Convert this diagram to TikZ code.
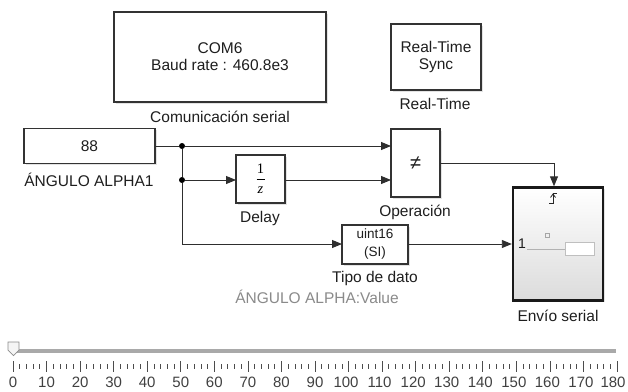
\documentclass[tikz,border=0pt]{standalone}
\usepackage{fontspec}
\setmainfont{Liberation Sans}
\newfontfamily\fracfont{Liberation Serif}
\usetikzlibrary{arrows.meta,calc,shadows}
\definecolor{wire}{HTML}{2E2E2E}
\definecolor{lbl}{HTML}{1E1E1E}
\definecolor{annot}{HTML}{8A8A8A}
\definecolor{track}{HTML}{A9A9A9}
\begin{document}
\begin{tikzpicture}[x=1pt,y=-1pt,
  blk/.style={draw=black!80, line width=1.1pt, fill=white, inner sep=0pt, outer sep=0pt,
    text=lbl, align=center, font=\fontsize{15.5}{17}\selectfont,
    drop shadow={opacity=0.22, shadow xshift=1.5pt, shadow yshift=-1.5pt}},
  blabel/.style={text=lbl, font=\fontsize{15.5}{17}\selectfont, inner sep=0pt},
  wirel/.style={draw=wire, line width=0.9pt},
  arr/.style={wirel, -{Triangle[length=10pt,width=8pt]}},
  jdot/.style={circle, fill=black, inner sep=0pt, minimum size=6pt},
  tickmark/.style={draw=black!70, line width=0.7pt}
]
\useasboundingbox (0,0) rectangle (628,391);

% blocks
\node[blk, minimum width=212pt, minimum height=90pt] (com) at (220,57) {COM6\\Baud rate : 460.8e3};
\node[blk, minimum width=90pt, minimum height=66pt] (rts) at (436,57) {Real-Time\\Sync};
\node[blk, minimum width=131pt, minimum height=35pt] (k88) at (89.5,146) {88};
\node[blk, minimum width=49pt, minimum height=48pt] (delay) at (260.5,179) {};
\node[align=center, inner sep=0pt, text=black, font=\fracfont\fontsize{14.5}{14}\selectfont] (frac) at (260.5,178.5)
  {1\\[-7.5pt]\rule{8pt}{0.7pt}\\[-0.5pt]\textit{z}};
\node[blk, minimum width=49pt, minimum height=68pt, font=\fontsize{20}{22}\selectfont] (op) at (415.5,163) {≠};
\node[blk, minimum width=66pt, minimum height=39pt, font=\fontsize{13.5}{18}\selectfont] (conv) at (375,244.5) {uint16\\(SI)};
\node[draw=black!90, line width=2.4pt, inner sep=0pt, outer sep=1.2pt,
  minimum width=90pt, minimum height=113pt, top color=white, bottom color=black!14,
  drop shadow={opacity=0.22, shadow xshift=1.5pt, shadow yshift=-1.5pt}] (env) at (558,244) {};

% block captions
\node[blabel] (comL) at (220,117) {Comunicación serial};
\node[blabel] (rtsL) at (435,104) {Real-Time};
\node[blabel] (k88L) at (89,180) {ÁNGULO ALPHA1};
\node[blabel] (delayL) at (260,218) {Delay};
\node[blabel] (opL) at (415,212) {Operación};
\node[blabel] (convL) at (375,278) {Tipo de dato};
\node[blabel] (envL) at (558,316) {Envío serial};
\node[blabel, text=annot] (valL) at (317,297) {ÁNGULO ALPHA:Value};

% contents of the subsystem block
\node[text=lbl, font=\fontsize{14}{16}\selectfont, inner sep=0pt] (p1) at (522,244) {1};
\draw[black!35, line width=0.5pt] (545,233) rectangle (549,237);
\draw[black!30, line width=0.6pt] (527,249) -- (565,249);
\draw[black!25, line width=0.6pt, fill=white] (565,242) rectangle (594,255);
% rising-edge trigger mark
\draw[black!85, line width=0.9pt] (549,203) -- (553,203) -- (553,193) -- (557,193);
\draw[black!85, line width=0.8pt] (550.5,197.5) -- (553,194) -- (555.5,197.5);

% branch points
\node[jdot] (j1) at (182,146) {};
\node[jdot] (j2) at (182,180) {};
\coordinate (jc) at (182,244);
\coordinate (tr) at (554,163);

% signal lines
\draw[wirel] (k88.east) -- (j1);
\draw[arr] (j1) -- (op.west |- j1);
\draw[wirel] (j1) -- (j2) -- (jc);
\draw[arr] (j2) -- (delay.west |- j2);
\draw[arr] (delay.east |- j2) -- (op.west |- j2);
\draw[arr] (jc) -- (conv.west |- jc);
\draw[arr] (conv.east |- jc) -- (env.west |- jc);
\draw[arr] (op.east) -- (tr) -- (env.north -| tr);

% slider
\fill[track] (13,349) rectangle (616,353);
\draw[black!45, fill=black!4, line width=0.7pt] (8,342) -- (19,342) -- (19,350) -- (13.5,355.5) -- (8,350) -- cycle;
\foreach \v in {0,2,...,180}{
  \pgfmathsetmacro{\xx}{13+3.3556*\v}
  \pgfmathtruncatemacro{\mj}{mod(\v,10)==0 ? 1 : 0}
  \pgfmathsetmacro{\lx}{\xx - (\v>=100 ? 2.5 : 0) - (\v==180 ? 1.5 : 0)}
  \ifnum\mj=1
    \draw[tickmark] (\xx,361) -- (\xx,372);
    \node[text=black!75, font=\fontsize{15}{17}\selectfont, inner sep=0pt] (t\v) at (\lx,382) {\v};
  \else
    \draw[tickmark] (\xx,364) -- (\xx,369);
  \fi
}
\end{tikzpicture}
\end{document}
